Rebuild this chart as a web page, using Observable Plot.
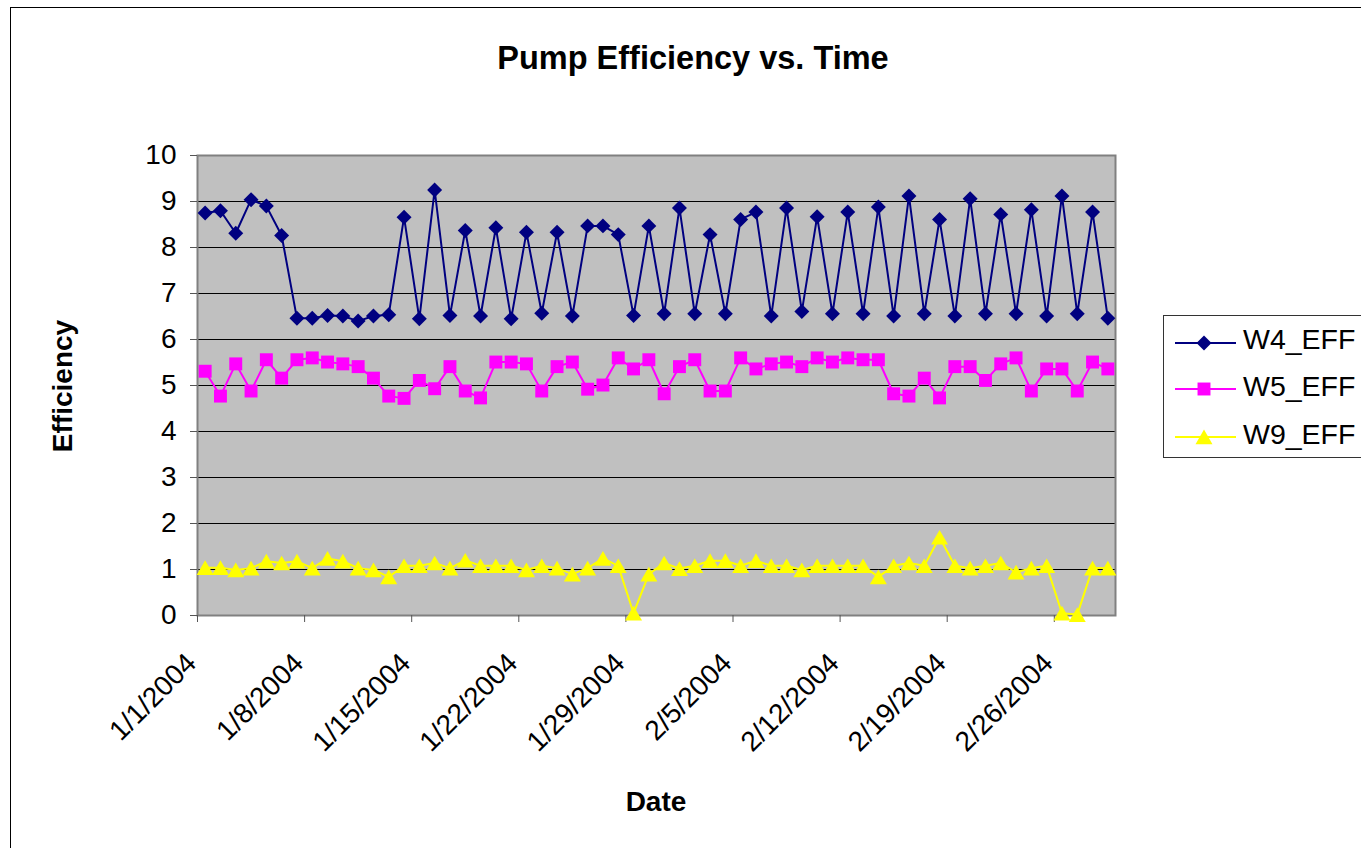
<!DOCTYPE html>
<html>
<head>
<meta charset="utf-8">
<script src="https://cdn.jsdelivr.net/npm/d3@7"></script>
<script src="https://cdn.jsdelivr.net/npm/@observablehq/plot@0.6"></script>
<style>
  html, body { margin: 0; padding: 0; background: #fff; width: 1361px; height: 848px; overflow: hidden; }
  body { position: relative; font-family: 'Liberation Sans', Arial, sans-serif; }
  #frame { position: absolute; left: 10px; top: 7px; width: 1400px; height: 900px; border-left: 1.5px solid #000; border-top: 1.5px solid #000; }
  #chart { position: absolute; left: 0; top: 0; }
  .lbl { position: absolute; font-weight: bold; font-size: 28px; line-height: 28px; white-space: nowrap; color: #000; }
  #title { left: 0; width: 1386px; text-align: center; top: 42px; font-size: 32.5px; line-height: 32px; }
  #xlabel { left: 556px; width: 200px; text-align: center; top: 788px; }
  #ylabel { left: -37px; width: 200px; text-align: center; top: 372px; transform: rotate(-90deg); }
  #legend { position: absolute; left: 1163px; top: 315px; }
</style>
</head>
<body>
<div id="frame"></div>
<div id="chart"></div>
<div class="lbl" id="title">Pump Efficiency vs. Time</div>
<div class="lbl" id="ylabel">Efficiency</div>
<div class="lbl" id="xlabel">Date</div>
<svg id="legend" width="210" height="145"></svg>
<script>
// ---- data ----
const seriesNames = ["W4_EFF", "W5_EFF", "W9_EFF"];
const seriesColors = ["#000080", "#ff00ff", "#ffff00"];
const startDate = "2004-01-01";
const endDate = "2004-03-01";
const yTicks = [0, 1, 2, 3, 4, 5, 6, 7, 8, 9, 10];
const w4 = [8.75, 8.80, 8.31, 9.04, 8.90, 8.26, 6.46, 6.46, 6.52, 6.51,
            6.40, 6.51, 6.54, 8.66, 6.45, 9.25, 6.52, 8.37, 6.51, 8.43,
            6.45, 8.33, 6.57, 8.33, 6.51, 8.47, 8.47, 8.28, 6.52, 8.47,
            6.56, 8.86, 6.56, 8.28, 6.56, 8.61, 8.77, 6.51, 8.86, 6.61,
            8.67, 6.56, 8.77, 6.56, 8.88, 6.51, 9.12, 6.56, 8.61, 6.51,
            9.06, 6.56, 8.72, 6.56, 8.82, 6.51, 9.12, 6.56, 8.77, 6.46];
const w5 = [5.31, 4.77, 5.47, 4.88, 5.56, 5.16, 5.56, 5.60, 5.51, 5.47,
            5.41, 5.16, 4.77, 4.72, 5.11, 4.93, 5.41, 4.88, 4.73, 5.51,
            5.51, 5.47, 4.88, 5.41, 5.51, 4.92, 5.01, 5.60, 5.36, 5.56,
            4.82, 5.41, 5.56, 4.88, 4.88, 5.60, 5.36, 5.47, 5.51, 5.41,
            5.60, 5.51, 5.60, 5.56, 5.56, 4.82, 4.77, 5.16, 4.73, 5.41,
            5.41, 5.11, 5.47, 5.60, 4.88, 5.36, 5.36, 4.88, 5.51, 5.36];
const w9 = [1.04, 1.04, 0.99, 1.03, 1.18, 1.14, 1.18, 1.03, 1.24, 1.18,
            1.03, 0.99, 0.84, 1.08, 1.08, 1.14, 1.03, 1.20, 1.08, 1.08,
            1.08, 0.99, 1.08, 1.03, 0.90, 1.03, 1.24, 1.08, 0.05, 0.90,
            1.14, 1.02, 1.08, 1.19, 1.19, 1.08, 1.19, 1.08, 1.08, 0.99,
            1.08, 1.08, 1.08, 1.08, 0.84, 1.08, 1.14, 1.08, 1.70, 1.08,
            1.03, 1.08, 1.14, 0.94, 1.03, 1.08, 0.05, 0.02, 1.03, 1.03];

// ---- build table ----
const start = new Date(startDate + "T00:00:00Z");
const end = new Date(endDate + "T00:00:00Z");
const days = d3.utcDay.range(start, end); // one reading per day
const xTicks = d3.utcDay.range(start, end, 7);
const valueSets = [w4, w5, w9];
const rows = seriesNames.flatMap((name, s) =>
  valueSets[s].map((v, i) => ({series: name, date: d3.utcHour.offset(days[i], 12), value: v})));
const bySeries = name => rows.filter(d => d.series === name);
const fmt = d3.utcFormat("%-m/%-d/%Y");

const chart = Plot.plot({
  width: 1361,
  height: 848,
  marginLeft: 197,
  marginRight: 246,
  marginTop: 155,
  marginBottom: 233,
  style: {fontFamily: "'Liberation Sans', Arial, sans-serif", fontSize: "28px", background: "transparent", color: "#000", overflow: "visible"},
  x: {type: "utc", domain: [start, end]},
  y: {domain: [0, 10]},
  color: {domain: seriesNames, range: seriesColors},
  marks: [
    Plot.frame({fill: "#c0c0c0"}),
    Plot.gridY(yTicks.slice(1, -1), {stroke: "#000", strokeOpacity: 1, strokeWidth: 1}),
    Plot.frame({stroke: "#808080", strokeWidth: 2}),
    Plot.axisY(yTicks, {tickSize: 7, tickPadding: 14, label: null, stroke: "#555", fill: "#000", tickFormat: d => d}),
    Plot.axisX(xTicks, {tickSize: 7, tickFormat: () => "", label: null, stroke: "#555"}),
    Plot.axisX(xTicks, {tickSize: 0, tickPadding: 13, tickRotate: -45, tickFormat: fmt, label: null, fill: "#000", dx: -6, dy: 30}),
    Plot.line(bySeries("W4_EFF"), {x: "date", y: "value", stroke: seriesColors[0], strokeWidth: 2}),
    Plot.dot(bySeries("W4_EFF"), {x: "date", y: "value", symbol: "diamond2", r: 6.75, fill: seriesColors[0], stroke: "none"}),
    Plot.line(bySeries("W5_EFF"), {x: "date", y: "value", stroke: seriesColors[1], strokeWidth: 2}),
    Plot.dot(bySeries("W5_EFF"), {x: "date", y: "value", symbol: "square", r: 7.3, fill: seriesColors[1], stroke: "none"}),
    Plot.line(bySeries("W9_EFF"), {x: "date", y: "value", stroke: seriesColors[2], strokeWidth: 2}),
    Plot.dot(bySeries("W9_EFF"), {x: "date", y: "value", symbol: "triangle", r: 6.3, dy: 2.4, fill: seriesColors[2], stroke: "none"})
  ]
});
document.getElementById("chart").appendChild(chart);

// ---- legend ----
const leg = d3.select("#legend");
leg.append("rect").attr("x", 0.5).attr("y", 0.5).attr("width", 260).attr("height", 142)
  .attr("fill", "#fff").attr("stroke", "#333").attr("stroke-width", 1);
const legSymbols = [d3.symbolDiamond2, d3.symbolSquare, d3.symbolTriangle];
const legSizes = [Math.PI * 6.75 * 6.75, Math.PI * 7.3 * 7.3, Math.PI * 6.3 * 6.3];
const rowY = [28, 74, 122];
seriesNames.forEach((name, i) => {
  const g = leg.append("g").attr("transform", `translate(0,${rowY[i]})`);
  g.append("line").attr("x1", 12).attr("x2", 73).attr("y1", 0).attr("y2", 0)
    .attr("stroke", seriesColors[i]).attr("stroke-width", 2);
  g.append("path").attr("d", d3.symbol(legSymbols[i], legSizes[i])())
    .attr("transform", `translate(41,${i === 2 ? 2.4 : 0})`).attr("fill", seriesColors[i]);
  g.append("text").attr("x", 80).attr("y", 5.5 + (i === 0 ? 0 : 1))
    .attr("font-family", "'Liberation Sans', Arial, sans-serif").attr("font-size", 28.5)
    .attr("fill", "#000").text(name);
});
</script>
</body>
</html>
